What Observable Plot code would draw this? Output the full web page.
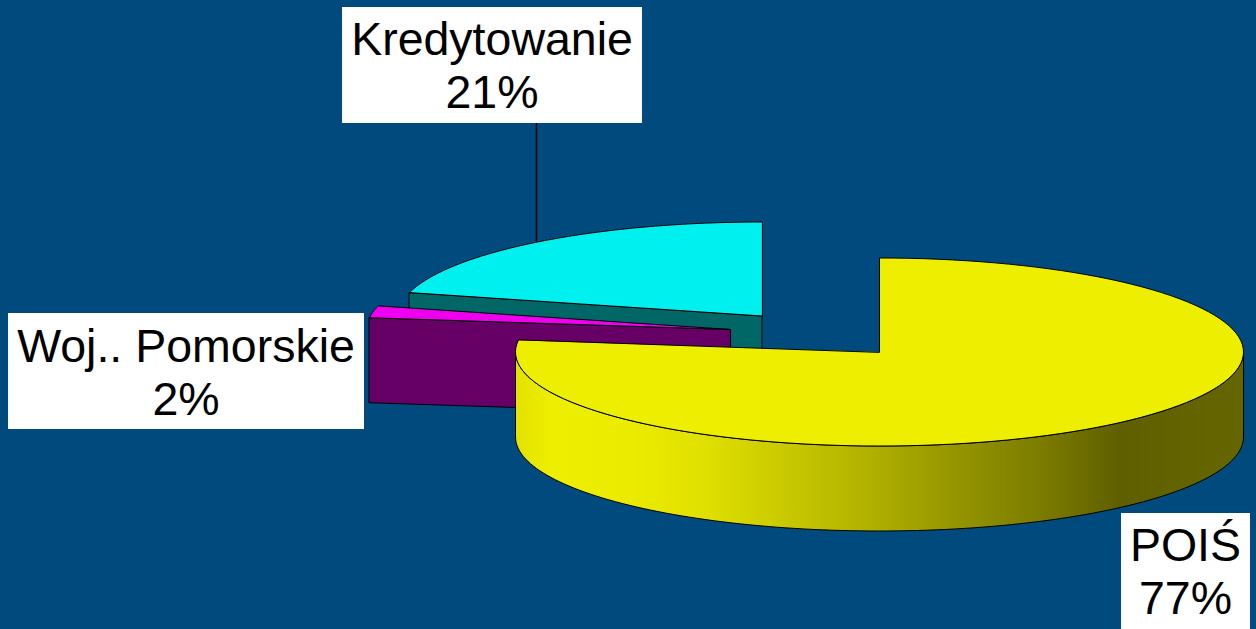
<!DOCTYPE html>
<html><head><meta charset="utf-8">
<script src="https://cdn.jsdelivr.net/npm/d3@7"></script>
<script src="https://cdn.jsdelivr.net/npm/@observablehq/plot@0.6"></script>
<style>html,body{margin:0;padding:0;background:#004A7D;overflow:hidden}svg{display:block}</style>
</head><body><div id="chart"></div>
<script>
// Data
const categories = ["POIŚ", "Woj.. Pomorskie", "Kredytowanie"];
const shares = [77, 2, 21];

// Drawing layout (pie projection, label placement, colours)
const W = 1256, H = 629, rx = 364, ry = 94, depth = 85;
const centres = [[879, 351.5], [730, 329], [761.5, 315.5]];
const topColors = ["#EEEE00", "#EE00EE", "#00EFEF"];
const sideColors = ["url(#poisSide)", "#660066", "#006666"];
const boxes = [[1121, 1250, 513, 629], [8, 364, 313, 429], [342, 642, 7, 123]];
const labelCentres = [[1185, 570], [185.5, 371], [491.5, 64]];
const leaderX = 536, leaderTop = 123;

// Pie geometry from the shares
const total = d3.sum(shares);
const cum = d3.cumsum(shares);
const angle = p => (p / total) * 2 * Math.PI;
const slices = categories.map((name, i) => ({
  name, share: shares[i], i,
  a0: angle(i ? cum[i - 1] : 0), a1: angle(cum[i]),
  cx: centres[i][0], cy: centres[i][1]
}));
const rim = (s, a, dy = 0) => ({x: s.cx + rx * Math.sin(a), y: s.cy - ry * Math.cos(a) + dy});
const arc = (s, a0, a1, dy = 0) => d3.range(0, 121).map(k => rim(s, a0 + (a1 - a0) * k / 120, dy));
const topFace = s => [{x: s.cx, y: s.cy}, ...arc(s, s.a0, s.a1)];
const cutFace = s => {   // flat cut running from the slice's leading rim point to the pie's axis
  const e = rim(s, s.a0);
  return [e, {x: s.cx, y: s.cy}, {x: s.cx, y: s.cy + depth}, {x: e.x, y: e.y + depth}];
};
const [pois, woj, kred] = slices;
const wall = s => {       // outer visible wall, front half of the ellipse
  const a0 = Math.PI / 2, a1 = 1.5 * Math.PI;
  return [...arc(s, a0, a1), ...arc(s, a0, a1, depth).reverse()];
};

const poly = (pts, fill, sw = 1) => Plot.line(pts, {
  x: "x", y: "y", fill, stroke: "#000", strokeWidth: sw, curve: "linear-closed"
});

const gradient = () => {
  const ns = "http://www.w3.org/2000/svg";
  const g = document.createElementNS(ns, "g");
  g.innerHTML = `<defs><linearGradient id="poisSide" x1="0" x2="1" y1="0" y2="0">
    <stop offset="0" stop-color="#E2E200"/><stop offset="0.05" stop-color="#EEEE00"/>
    <stop offset="0.16" stop-color="#EBEB00"/><stop offset="0.26" stop-color="#E0E000"/>
    <stop offset="0.34" stop-color="#CFCF00"/><stop offset="0.47" stop-color="#B4B400"/>
    <stop offset="0.60" stop-color="#969600"/><stop offset="0.72" stop-color="#7C7C00"/>
    <stop offset="0.83" stop-color="#5F5F00"/><stop offset="1" stop-color="#666600"/>
  </linearGradient></defs>`;
  return g;
};

const rimY = (s, x) => s.cy - ry * Math.sqrt(1 - ((x - s.cx) / rx) ** 2);

const labels = slices.map(s => ({
  text: `${s.name}\n${s.share}%`,
  x: labelCentres[s.i][0], y: labelCentres[s.i][1],
  x1: boxes[s.i][0], x2: boxes[s.i][1], y1: boxes[s.i][2], y2: boxes[s.i][3]
}));

const chart = Plot.plot({
  width: W, height: H, margin: 0,
  x: {domain: [0, W], range: [0, W], axis: null},
  y: {domain: [0, H], range: [0, H], axis: null},
  style: {background: "#004A7D"},
  marks: [
    gradient,
    // Kredytowanie: cut wall then top
    poly(cutFace(kred), sideColors[2]),
    poly(topFace(kred), topColors[2]),
    // Woj. Pomorskie
    poly(cutFace(woj), sideColors[1]),
    poly(topFace(woj), topColors[1]),
    // POIŚ: outer wall then top
    poly(wall(pois), sideColors[0]),
    poly(topFace(pois), topColors[0]),
    // Leader line and labels
    Plot.ruleX([leaderX], {y1: leaderTop, y2: rimY(kred, leaderX), stroke: "#000", strokeWidth: 1.5}),
    Plot.rect(labels, {x1: "x1", x2: "x2", y1: "y1", y2: "y2", fill: "#fff"}),
    Plot.text(labels, {
      x: "x", y: "y", text: "text", fill: "#000", fontSize: 46.5,
      fontFamily: "Liberation Sans", lineHeight: 1.14, lineAnchor: "middle", textAnchor: "middle"
    })
  ]
});
document.getElementById("chart").append(chart);
</script></body></html>
